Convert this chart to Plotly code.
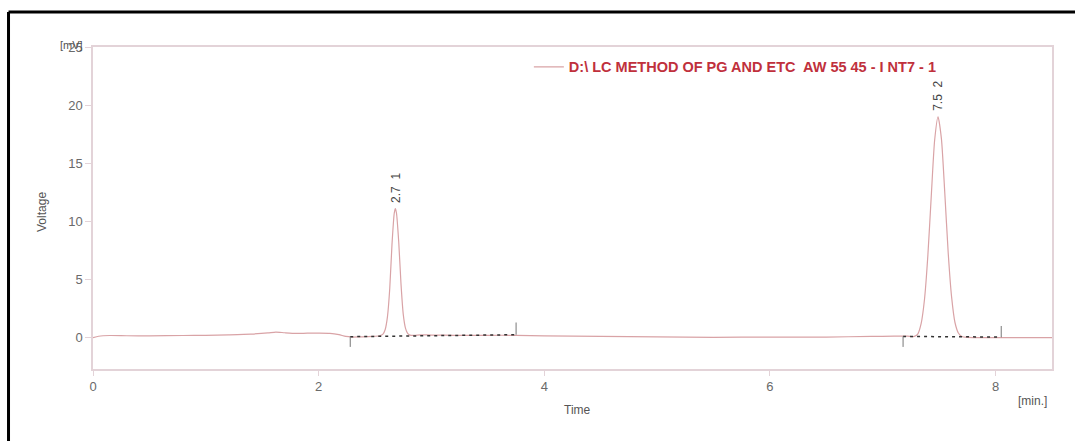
import plotly.graph_objects as go

# Chromatogram trace (time in min, voltage in mV)
time_min = [0.00, 0.05, 0.15, 0.30, 0.50, 0.80, 1.00, 1.20, 1.40, 1.55, 1.62, 1.70, 1.80, 1.90, 2.00, 2.10,
            2.18, 2.24, 2.30, 2.36, 2.42, 2.48, 2.54, 2.57, 2.59, 2.61, 2.63, 2.65, 2.67, 2.68, 2.69,
            2.71, 2.73, 2.75, 2.77, 2.79, 2.81, 2.85, 2.90, 3.00, 3.20, 3.50, 3.75, 4.00, 4.50,
            5.00, 5.50, 6.00, 6.50, 6.90, 7.10, 7.22, 7.28, 7.31, 7.34, 7.37, 7.40, 7.43, 7.46,
            7.49, 7.52, 7.55, 7.58, 7.61, 7.64, 7.67, 7.70, 7.75, 7.85, 8.00, 8.20, 8.50]
voltage_mv = [0.00, 0.12, 0.18, 0.16, 0.15, 0.18, 0.20, 0.24, 0.30, 0.40, 0.48, 0.42, 0.36, 0.38, 0.38, 0.36,
              0.25, 0.10, 0.05, 0.06, 0.08, 0.10, 0.16, 0.30, 0.70, 1.80, 4.20, 8.00, 10.70, 11.10, 10.70,
              8.20, 4.60, 2.00, 0.80, 0.35, 0.22, 0.20, 0.24, 0.22, 0.20, 0.20, 0.20, 0.15, 0.10,
              0.06, 0.02, 0.05, 0.05, 0.10, 0.12, 0.12, 0.10, 0.30, 1.20, 3.30, 7.10, 12.20, 17.00,
              19.00, 17.10, 12.40, 7.30, 3.50, 1.30, 0.40, 0.10, 0.02, 0.00, 0.00, 0.00, 0.00]

# Integration baselines (start/end) and peak labels
base1_t = [2.28, 3.75]
base1_v = [0.08, 0.25]
base2_t = [7.18, 8.05]
base2_v = [0.10, 0.05]
mark_down = -0.8
mark_up = [1.3, 1.0]

peak_t = [2.68, 7.49]
peak_v = [11.1, 19.0]
peak_labels = ["2.7&nbsp;&nbsp;1", "7.5&nbsp;&nbsp;2"]

series_name = "D:\\ LC METHOD OF PG AND ETC&nbsp; AW 55 45 - I NT7 - 1"

x_ticks = [0, 2, 4, 6, 8]
y_ticks = [0, 5, 10, 15, 20, 25]

line_col = "#d9a3a6"
axis_col = "#e3d3d8"
tick_font = dict(family="Liberation Sans, Arial", size=13, color="#6a6a6a")

fig = go.Figure()
fig.add_trace(go.Scatter(x=time_min, y=voltage_mv, mode="lines", name=series_name,
                         line=dict(color=line_col, width=1.2, shape="spline", smoothing=0.6),
                         showlegend=True))

# baselines
for bt, bv, up in [(base1_t, base1_v, mark_up[0]), (base2_t, base2_v, mark_up[1])]:
    fig.add_trace(go.Scatter(x=bt, y=bv, mode="lines", showlegend=False,
                             line=dict(color="#333333", width=1.5, dash="3px,4px")))
    fig.add_trace(go.Scatter(x=[bt[0], bt[0]], y=[bv[0], mark_down], mode="lines", showlegend=False,
                             line=dict(color="#777777", width=1)))
    fig.add_trace(go.Scatter(x=[bt[1], bt[1]], y=[bv[1], up], mode="lines", showlegend=False,
                             line=dict(color="#777777", width=1)))

annotations = []
for t, v, lab in zip(peak_t, peak_v, peak_labels):
    annotations.append(dict(x=t, y=v, xref="x", yref="y", text=lab, showarrow=False,
                            textangle=-90, xanchor="center", yanchor="bottom", yshift=4,
                            font=dict(family="Liberation Sans, Arial", size=12, color="#444444")))

annotations += [
    dict(x=-0.0532, y=0.4876, xref="paper", yref="paper", text="Voltage", showarrow=False,
         textangle=-90, xanchor="center", yanchor="middle",
         font=dict(family="Liberation Sans, Arial", size=12, color="#555555")),
    dict(x=-0.022, y=1.006, xref="paper", yref="paper", text="[mV]", showarrow=False,
         xanchor="center", yanchor="middle",
         font=dict(family="Liberation Sans, Arial", size=11, color="#555555")),
    dict(x=0.5047, y=-0.127, xref="paper", yref="paper", text="Time", showarrow=False,
         xanchor="center", yanchor="middle",
         font=dict(family="Liberation Sans, Arial", size=12, color="#555555")),
    dict(x=0.980, y=-0.099, xref="paper", yref="paper", text="[min.]", showarrow=False,
         xanchor="center", yanchor="middle",
         font=dict(family="Liberation Sans, Arial", size=12, color="#555555")),
]

shapes = [
    dict(type="line", xref="paper", yref="paper", x0=-0.0881, x1=1.03, y0=1.1087, y1=1.1087,
         line=dict(color="black", width=3)),
    dict(type="line", xref="paper", yref="paper", x0=-0.0881, x1=-0.0881, y0=1.1087, y1=-0.25,
         line=dict(color="black", width=3)),
]

fig.update_layout(
    width=1075, height=441,
    margin=dict(l=93, r=23, t=47, b=72),
    paper_bgcolor="white", plot_bgcolor="white",
    annotations=annotations, shapes=shapes,
    legend=dict(x=0.4545, y=0.988, xanchor="left", yanchor="top", bgcolor="rgba(0,0,0,0)",
                font=dict(family="Liberation Sans, Arial", size=14.5, color="#c0303c", weight="bold"),
                itemwidth=30),
    xaxis=dict(range=[0, 8.5], tickvals=x_ticks, showgrid=False, zeroline=False,
               showline=True, linecolor=axis_col, linewidth=1.5, mirror=True,
               ticks="outside", ticklen=5, tickcolor=axis_col, tickfont=tick_font),
    yaxis=dict(range=[-2.7, 25], tickvals=y_ticks, showgrid=False, zeroline=False,
               showline=True, linecolor=axis_col, linewidth=1.5, mirror=True,
               ticks="outside", ticklen=6, tickcolor=axis_col, tickfont=tick_font),
)

fig.write_html("out.html")
